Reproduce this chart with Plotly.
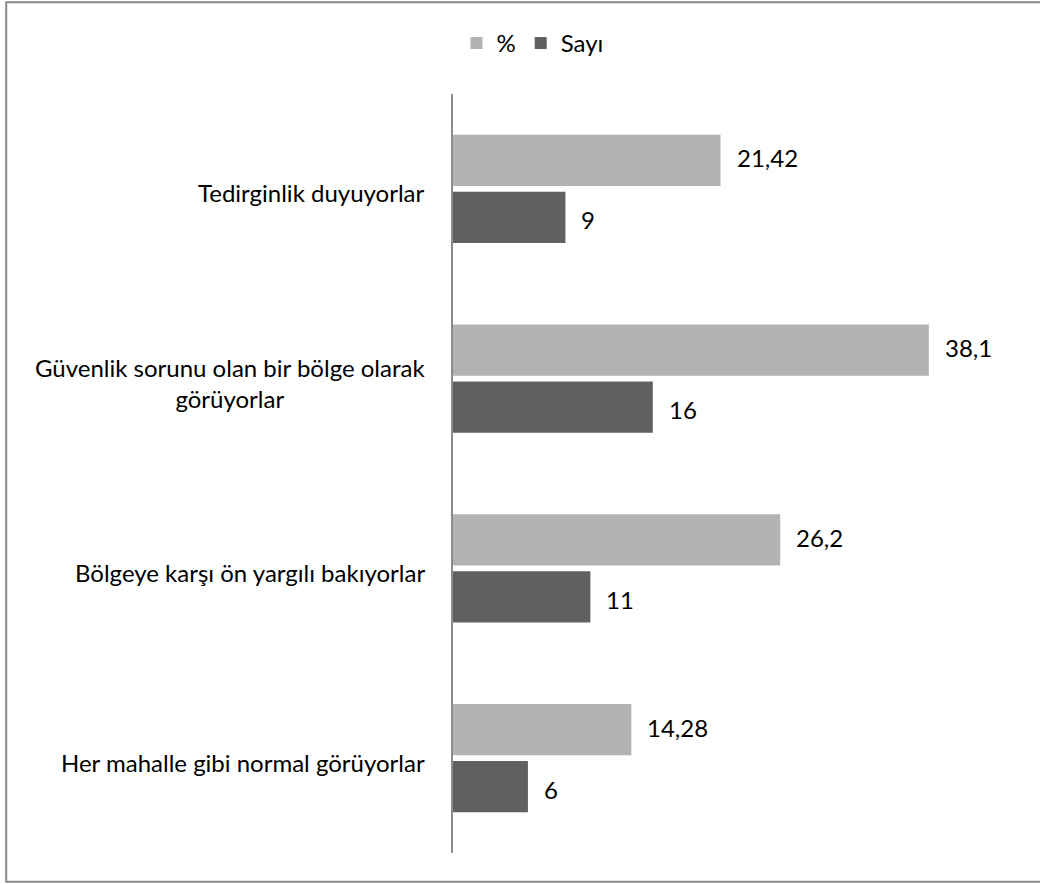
import plotly.graph_objects as go

# data
categories = [
    "Tedirginlik duyuyorlar",
    "Güvenlik sorunu olan bir bölge olarak görüyorlar",
    "Bölgeye karşı ön yargılı bakıyorlar",
    "Her mahalle gibi normal görüyorlar",
]
cat_labels = [
    "Tedirginlik duyuyorlar",
    "Güvenlik sorunu olan bir bölge olarak<br>görüyorlar",
    "Bölgeye karşı ön yargılı bakıyorlar",
    "Her mahalle gibi normal görüyorlar",
]
yuzde = [21.42, 38.1, 26.2, 14.28]
sayi = [9, 16, 11, 6]

light = "#b3b3b3"
dark = "#606060"
font = "Lato"
fsize = 24


def tr(v):
    return ("%g" % v).replace(".", ",")


fig = go.Figure()
fig.add_trace(go.Bar(y=categories, x=yuzde, name="%", orientation="h",
                     marker=dict(color=light, line=dict(width=0))))
fig.add_trace(go.Bar(y=categories, x=sayi, name="Sayı", orientation="h",
                     marker=dict(color=dark, line=dict(width=0))))

annotations = []
# value labels next to bars
for c, v in zip(categories, yuzde):
    annotations.append(dict(x=v, y=c, xref="x", yref="y", text=tr(v),
                            showarrow=False, xanchor="left", xshift=14, yshift=31,
                            font=dict(size=fsize, color="#000000", family=font)))
for c, v in zip(categories, sayi):
    annotations.append(dict(x=v, y=c, xref="x", yref="y", text=tr(v),
                            showarrow=False, xanchor="left", xshift=14, yshift=-31,
                            font=dict(size=fsize, color="#000000", family=font)))
# category labels, centred lines
for c, lab in zip(categories, cat_labels):
    annotations.append(dict(x=0, y=c, xref="paper", yref="y", text=lab,
                            showarrow=False, xanchor="right", align="center",
                            xshift=-26, yshift=-4,
                            font=dict(size=fsize, color="#000000", family=font)))

fig.update_layout(
    width=1040,
    height=884,
    margin=dict(l=453, r=25, t=94, b=31),
    paper_bgcolor="white",
    plot_bgcolor="white",
    barmode="group",
    bargap=0.4,
    bargroupgap=0.1,
    font=dict(family=font, size=fsize, color="#000000"),
    showlegend=True,
    legend=dict(orientation="h", x=0.512, xref="container", xanchor="center",
                y=0.951, yref="container", yanchor="middle",
                font=dict(size=fsize), traceorder="normal",
                itemwidth=30),
    annotations=annotations,
    shapes=[dict(type="rect", xref="paper", yref="paper",
                 x0=-0.795, x1=1.1, y0=-0.038, y1=1.121,
                 line=dict(color="#8a8a8a", width=2), fillcolor="rgba(0,0,0,0)")],
)

fig.update_xaxes(range=[0, 45], showgrid=False, zeroline=False,
                 showticklabels=False, showline=False, ticks="")
fig.update_yaxes(autorange="reversed", showgrid=False, zeroline=False,
                 showticklabels=False, ticks="", showline=True,
                 linecolor="#8c8c8c", linewidth=2)

fig.write_html("out.html", config={"displayModeBar": False},
               post_script="document.body.style.margin='0';")
